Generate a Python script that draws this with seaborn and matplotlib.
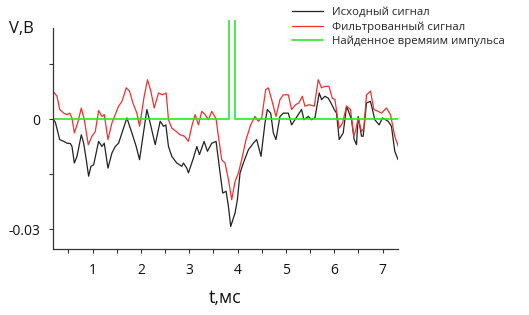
import numpy as np
import pandas as pd
import matplotlib
matplotlib.use("Agg")
import matplotlib.pyplot as plt
import seaborn as sns
from matplotlib.ticker import FixedLocator

# ---- data ----
t_src = [0.180, 0.229, 0.318, 0.401, 0.470, 0.539, 0.573, 0.621, 0.676, 0.766, 0.814, 0.869,
         0.917, 0.966, 1.021, 1.124, 1.193, 1.241, 1.317, 1.399, 1.468, 1.537, 1.709, 1.813,
         1.902, 1.971, 2.123, 2.191, 2.295, 2.398, 2.467, 2.515, 2.570, 2.639, 2.742, 2.846,
         2.880, 2.949, 2.983, 3.087, 3.156, 3.211, 3.307, 3.376, 3.466, 3.555, 3.638, 3.693,
         3.762, 3.810, 3.858, 3.948, 3.996, 4.051, 4.120, 4.223, 4.326, 4.395, 4.485, 4.567,
         4.616, 4.685, 4.740, 4.795, 4.877, 4.946, 5.050, 5.118, 5.187, 5.325, 5.373, 5.463,
         5.532, 5.601, 5.690, 5.738, 5.807, 5.876, 5.931, 6.000, 6.048, 6.103, 6.186, 6.255,
         6.310, 6.358, 6.413, 6.461, 6.496, 6.565, 6.599, 6.668, 6.751, 6.840, 6.930, 6.998,
         7.116, 7.185, 7.253, 7.322]
v_src = [0.0000, -0.0009, -0.0056, -0.0061, -0.0066, -0.0067, -0.0075, -0.0120, -0.0102, -0.0043,
         -0.0066, -0.0111, -0.0156, -0.0129, -0.0125, -0.0061, -0.0075, -0.0066, -0.0134, -0.0093,
         -0.0075, -0.0066, 0.0003, -0.0038, -0.0075, -0.0111, 0.0026, -0.0011, -0.0070, -0.0006,
         -0.0020, -0.0016, -0.0075, -0.0102, -0.0120, -0.0129, -0.0120, -0.0134, -0.0147, -0.0106,
         -0.0075, -0.0097, -0.0061, -0.0088, -0.0066, -0.0061, -0.0147, -0.0202, -0.0197, -0.0238,
         -0.0293, -0.0256, -0.0220, -0.0147, -0.0120, -0.0084, -0.0066, -0.0056, -0.0102, -0.0011,
         0.0026, 0.0016, -0.0038, -0.0056, 0.0007, 0.0016, 0.0016, -0.0016, -0.0002, 0.0026,
         -0.0002, 0.0007, -0.0002, 0.0003, 0.0071, 0.0053, 0.0062, 0.0057, 0.0044, 0.0026,
         0.0016, -0.0056, -0.0038, 0.0035, 0.0016, -0.0002, -0.0056, -0.0070, 0.0007, -0.0047,
         -0.0047, 0.0044, 0.0048, -0.0002, -0.0016, 0.0003, -0.0006, -0.0020, -0.0088, -0.0111]

t_flt = [0.180, 0.263, 0.318, 0.401, 0.470, 0.525, 0.573, 0.621, 0.690, 0.766, 0.828, 0.910,
         0.986, 1.055, 1.124, 1.193, 1.241, 1.317, 1.399, 1.468, 1.537, 1.606, 1.696, 1.764,
         1.833, 1.916, 1.971, 2.067, 2.136, 2.205, 2.274, 2.364, 2.446, 2.522, 2.570, 2.639,
         2.729, 2.811, 2.901, 2.983, 3.052, 3.121, 3.190, 3.259, 3.328, 3.397, 3.466, 3.555,
         3.603, 3.672, 3.741, 3.810, 3.879, 3.948, 4.017, 4.085, 4.175, 4.271, 4.361, 4.430,
         4.499, 4.581, 4.636, 4.705, 4.795, 4.877, 4.946, 5.050, 5.118, 5.201, 5.270, 5.339,
         5.394, 5.483, 5.587, 5.669, 5.738, 5.807, 5.890, 5.959, 6.014, 6.103, 6.172, 6.255,
         6.337, 6.406, 6.448, 6.496, 6.565, 6.613, 6.668, 6.751, 6.820, 6.909, 6.978, 7.081,
         7.164, 7.253, 7.336]
v_flt = [0.0076, 0.0062, 0.0026, 0.0016, 0.0012, 0.0016, 0.0003, -0.0038, -0.0011, 0.0030,
         -0.0002, -0.0070, -0.0047, -0.0034, 0.0023, 0.0007, 0.0012, -0.0056, -0.0011, 0.0012,
         0.0035, 0.0048, 0.0085, 0.0076, 0.0044, 0.0016, -0.0020, 0.0062, 0.0107, 0.0076,
         0.0030, 0.0071, 0.0066, 0.0071, -0.0002, -0.0025, -0.0034, -0.0043, -0.0047, -0.0061,
         -0.0020, 0.0012, -0.0016, 0.0021, 0.0012, -0.0002, 0.0021, 0.0000, -0.0047, -0.0111,
         -0.0120, -0.0165, -0.0220, -0.0170, -0.0147, -0.0111, -0.0056, -0.0016, 0.0007, -0.0006,
         0.0003, 0.0080, 0.0085, 0.0053, 0.0007, 0.0053, 0.0066, 0.0066, 0.0026, 0.0039,
         0.0044, 0.0062, 0.0035, 0.0039, 0.0035, 0.0107, 0.0085, 0.0089, 0.0089, 0.0057,
         0.0053, -0.0025, -0.0011, 0.0035, 0.0026, -0.0047, -0.0029, 0.0003, -0.0034, -0.0025,
         0.0066, 0.0076, 0.0026, 0.0021, 0.0016, 0.0030, 0.0012, -0.0047, -0.0079]

t_pulse = [0.18, 3.83, 3.83, 3.94, 3.94, 7.32]
v_pulse = [0.0, 0.0, 0.05, 0.05, 0.0, 0.0]

labels = ["Исходный сигнал", "Фильтрованный сигнал", "Найденное времяим импульса"]
x_major = [1, 2, 3, 4, 5, 6, 7]
x_minor = [0.5, 1.5, 2.5, 3.5, 4.5, 5.5, 6.5]
y_major = [-0.03, 0.0]
y_minor = [-0.015, 0.015]
y_labels = ["-0.03", "0"]

# ---- style ----
sns.set_style("white")
plt.rcParams["font.family"] = ["Open Sans", "DejaVu Sans"]

fig = plt.figure(figsize=(5.29, 3.15), dpi=100)
ax = fig.add_axes([53 / 529, 1 - 249 / 315, (398 - 53) / 529, (249 - 20) / 315])

sns.lineplot(x=t_src, y=v_src, ax=ax, color="#222222", lw=0.9,
             estimator=None, sort=False, label=labels[0])
sns.lineplot(x=t_flt, y=v_flt, ax=ax, color="#f03030", lw=0.9,
             estimator=None, sort=False, label=labels[1])
sns.lineplot(x=t_pulse, y=v_pulse, ax=ax, color="#33e033", lw=1.2,
             estimator=None, sort=False, label=labels[2])

ax.set_xlim(0.18, 7.32)
ax.set_ylim(-0.03545, 0.027)

for s in ["top", "right"]:
    ax.spines[s].set_visible(False)
for s in ["left", "bottom"]:
    ax.spines[s].set_color("#333333")
    ax.spines[s].set_linewidth(0.9)
ax.spines["left"].set_bounds(-0.03545, 0.0248)

ax.xaxis.set_major_locator(FixedLocator(x_major))
ax.xaxis.set_minor_locator(FixedLocator(x_minor))
ax.yaxis.set_major_locator(FixedLocator(y_major))
ax.yaxis.set_minor_locator(FixedLocator(y_minor))
ax.set_yticklabels(y_labels)
ax.tick_params(axis="both", which="both", direction="out", length=3, width=0.8,
               color="#333333", labelsize=10, labelcolor="#111111")
ax.tick_params(axis="x", which="both", bottom=True, pad=7)
ax.tick_params(axis="y", which="both", left=True, pad=6)

ax.set_xlabel("t,мс", fontsize=13, color="#111111", labelpad=8)
ax.set_ylabel("")
fig.text(21 / 529, 1 - 29 / 315, "V,B", fontsize=12, ha="center", va="center",
         color="#111111")

ax.get_legend().remove()
h, l = ax.get_legend_handles_labels()
fig.legend(h, l, loc="upper left", bbox_to_anchor=(292 / 529, 1 - 7 / 315),
           frameon=False, fontsize=8.2, borderpad=0, borderaxespad=0,
           handlelength=2.7, handletextpad=0.8, labelspacing=0.28)

fig.savefig("out.png", dpi=100)
